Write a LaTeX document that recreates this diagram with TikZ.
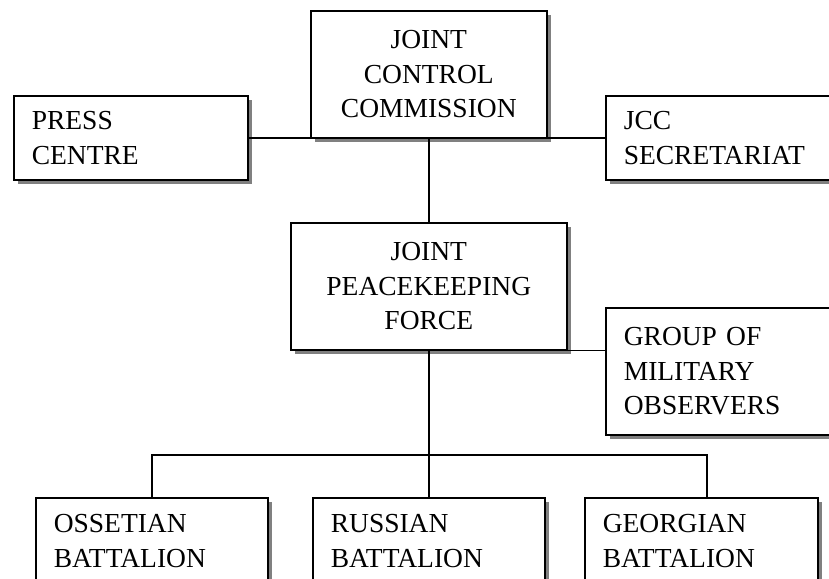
\documentclass[tikz,border=0pt]{standalone}
\usepackage{fontspec}
\setmainfont{Liberation Serif}
\usetikzlibrary{positioning, shadows}

\begin{document}
\begin{tikzpicture}[x=1pt, y=-1pt]
    \tikzset{
      orgbox/.style={rectangle, draw=black, fill=white, line width=1.6pt,
                     anchor=north west, inner xsep=18pt, inner ysep=0pt,
                     align=left, minimum height=84pt,
                     font=\fontsize{27.5}{34.5}\selectfont,
                     drop shadow={shadow xshift=4.5pt, shadow yshift=-4.5pt,
                                  fill=black!50, opacity=1}},
      link/.style={draw=black, line width=1.6pt}}
    \useasboundingbox (0,0) rectangle (829,578);
    \clip (0,0) rectangle (829,578);
    % commission level
    \node[orgbox, align=center, text width=200pt, minimum height=127pt] (jcc) at (310,10) {JOINT\\CONTROL\\COMMISSION};
    \node[orgbox, text width=198pt] (press) at (13,95) {PRESS\\CENTRE};
    \node[orgbox, text width=210pt] (sec) at (605,95) {JCC\\SECRETARIAT};
    % force level
    \node[orgbox, align=center, text width=240pt, minimum height=127pt] (jpf) at (290,222) {JOINT\\PEACEKEEPING\\FORCE};
    \node[orgbox, text width=210pt, minimum height=127pt] (gmo) at (605,307) {GROUP OF\\MILITARY\\OBSERVERS};
    % battalions
    \node[orgbox, text width=196pt, minimum height=86pt] (oss) at (35,497)  {OSSETIAN\\BATTALION};
    \node[orgbox, text width=196pt, minimum height=86pt] (rus) at (312,497) {RUSSIAN\\BATTALION};
    \node[orgbox, text width=197pt, minimum height=86pt] (geo) at (584,497) {GEORGIAN\\BATTALION};
    \coordinate (bus) at (428,455);
    \draw[link] (press.east) -- (sec.west);
    \draw[link] (jcc.south) -- (jpf.north);
    \draw[link] (jpf.south) -- (gmo.west |- jpf.south);
    \draw[link] (jpf.south) -- (rus.north);
    \draw[link] (oss.north) |- (bus) -| ([xshift=5.5pt]geo.north);
  \end{tikzpicture}
\end{document}
